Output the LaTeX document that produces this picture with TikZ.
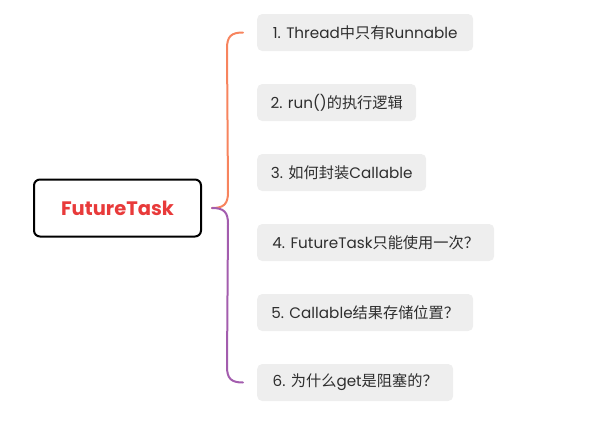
\documentclass[tikz,border=0pt]{standalone}
\usepackage{fontspec}
\setmainfont{Poppins}
\newfontfamily\cjk{Noto Sans CJK SC}
\definecolor{txt}{HTML}{2E2E2E}
\definecolor{boxfill}{HTML}{EEEEEE}
\definecolor{rootred}{HTML}{E83A3A}
\definecolor{br1}{HTML}{F7845E}
\definecolor{br2}{HTML}{A35DAE}
\begin{document}
\begin{tikzpicture}[x=1pt,y=-1pt,
  item/.style={fill=boxfill,rounded corners=5pt,minimum height=37pt,inner sep=0pt,anchor=west,text=txt,font=\fontsize{15.2}{17}\selectfont},
  rootbox/.style={draw=black,line width=2pt,rounded corners=6pt,minimum width=167pt,minimum height=57pt,inner sep=0pt,text=rootred,font=\fontsize{19.5}{22}\selectfont\bfseries},
  brace/.style={line width=2pt,line cap=round}]
\useasboundingbox (0,0) rectangle (600,424);
\node[rootbox] (root) at (117.5,208) {FutureTask};
\node[item,minimum width=216pt] (b1) at (257,32.5) {1. Thread{\cjk 中只有}Runnable};
\node[item,minimum width=159pt] (b2) at (257,102.5) {2. run(){\cjk 的执行逻辑}};
\node[item,minimum width=169pt] (b3) at (257,172.5) {3. {\cjk 如何封装}Callable};
\node[item,minimum width=237pt] (b4) at (257,242.5) {4. FutureTask{\cjk 只能使用一次？}};
\node[item,minimum width=216pt] (b5) at (257,312.5) {5. Callable{\cjk 结果存储位置？}};
\node[item,minimum width=196pt] (b6) at (257,382.5) {6. {\cjk 为什么}get{\cjk 是阻塞的？}};
\coordinate (j) at ([xshift=10pt]root.east);
\coordinate (e1) at ([xshift=-14pt]b1.west);
\coordinate (e6) at ([xshift=-14pt]b6.west);
\draw[brace,br1] (j) .. controls ([xshift=12pt]j) and ([xshift=16pt,yshift=4pt]j) .. ([xshift=16pt,yshift=16pt]j)
  -- ([xshift=-16pt,yshift=-16pt]e1) .. controls ([xshift=-16pt,yshift=-4pt]e1) and ([xshift=-12pt]e1) .. (e1);
\draw[brace,br2] (j) .. controls ([xshift=12pt]j) and ([xshift=16pt,yshift=-4pt]j) .. ([xshift=16pt,yshift=-16pt]j)
  -- ([xshift=-16pt,yshift=16pt]e6) .. controls ([xshift=-16pt,yshift=4pt]e6) and ([xshift=-12pt]e6) .. (e6);
\end{tikzpicture}
\end{document}
